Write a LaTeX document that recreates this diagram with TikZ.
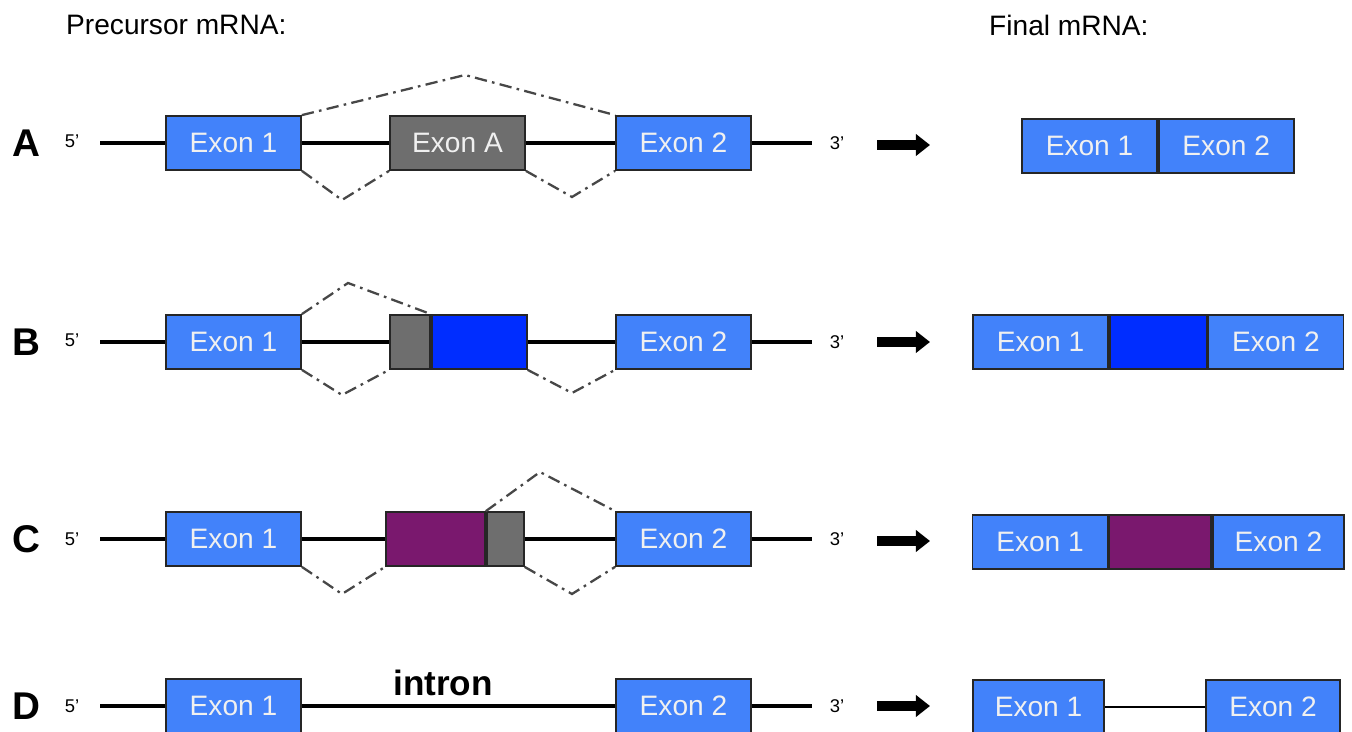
\documentclass[tikz,border=0pt]{standalone}
\usepackage{fontspec}
\setmainfont{Liberation Sans}
\usetikzlibrary{arrows.meta}

\definecolor{exonblue}{RGB}{66,130,250}
\definecolor{deepblue}{RGB}{0,45,255}
\definecolor{plum}{RGB}{122,24,110}
\definecolor{exongray}{RGB}{110,110,110}

\tikzstyle{exon}=[rectangle, draw=black!85, line width=1pt, fill=exonblue, text=white!94!black, minimum width=2.7cm, minimum height=1.08cm, inner sep=0pt, font=\fontsize{16}{18}\selectfont]
\tikzstyle{rowlabel}=[font=\bfseries\fontsize{22}{24}\selectfont]
\tikzstyle{prime}=[font=\fontsize{10.5}{12}\selectfont]
\tikzstyle{title}=[anchor=west, font=\fontsize{16}{18}\selectfont]
\tikzstyle{strand}=[line width=2pt]
\tikzstyle{splice}=[line width=1.3pt, black!72, dash pattern=on 7pt off 3pt on 1.5pt off 3pt]
\tikzstyle{fwd}=[line width=5.5pt, -{Triangle[length=8pt,width=12pt]}]

\begin{document}
\begin{tikzpicture}[x=0.02cm, y=-0.02cm]
\useasboundingbox (0,0) rectangle (1352,732);

\node [title] (pre) at (60,25) {Precursor mRNA:};
\node [title] (fin) at (983,25) {Final mRNA:};

% row A
\node [rowlabel] (la) at (26,143) {A};
\node [prime] (pa) at (72,141) {5'};
\coordinate (sa) at (100,143);
\node [exon] (a1) at (233.5,143) {Exon 1};
\node [exon, fill=exongray] (aA) at (457.5,143) {Exon A};
\node [exon] (a2) at (683.5,143) {Exon 2};
\coordinate (ea) at (812,143);
\node [prime] (qa) at (837,143) {3'};
\draw [strand] (sa) -- (a1) (a1) -- (aA) (aA) -- (a2) (a2) -- (ea);
\coordinate (ka) at (465,75);
\coordinate (kb) at (342,200);
\coordinate (kc) at (572,197);
\draw [splice] (a1.north east) -- (ka) -- (a2.north west);
\draw [splice] (a1.south east) -- (kb) -- (aA.south west);
\draw [splice] (aA.south east) -- (kc) -- (a2.south west);
\coordinate (xa) at (877,145);
\coordinate (ya) at (930,145);
\draw [fwd] (xa) -- (ya);
\node [exon] (fa1) at (1089.5,146) {Exon 1};
\node [exon, anchor=west] (fa2) at (fa1.east) {Exon 2};

% row B
\node [rowlabel] (lb) at (26,342) {B};
\node [prime] (pb) at (72,340) {5'};
\coordinate (sb) at (100,342);
\node [exon] (b1) at (233.5,342) {Exon 1};
\node [exon, fill=exongray, minimum width=0.8cm] (bg) at (410,342) {};
\node [exon, fill=deepblue, minimum width=1.9cm, anchor=west] (bb) at (bg.east) {};
\node [exon] (b2) at (683.5,342) {Exon 2};
\coordinate (eb) at (812,342);
\node [prime] (qb) at (837,342) {3'};
\draw [strand] (sb) -- (b1) (b1) -- (bg) (bb) -- (b2) (b2) -- (eb);
\coordinate (kd) at (348,283);
\coordinate (ke) at (342,395);
\coordinate (kf) at (572,393);
\draw [splice] (b1.north east) -- (kd) -- (bg.north east);
\draw [splice] (b1.south east) -- (ke) -- (bg.south west);
\draw [splice] (bb.south east) -- (kf) -- (b2.south west);
\coordinate (xb) at (877,342);
\coordinate (yb) at (930,342);
\draw [fwd] (xb) -- (yb);
\node [exon] (fb1) at (1040.5,342) {Exon 1};
\node [exon, fill=deepblue, minimum width=1.94cm, anchor=west] (fbb) at (fb1.east) {};
\node [exon, anchor=west] (fb2) at (fbb.east) {Exon 2};

% row C
\node [rowlabel] (lc) at (26,539) {C};
\node [prime] (pc) at (72,539) {5'};
\coordinate (sc) at (100,539);
\node [exon] (c1) at (233.5,539) {Exon 1};
\node [exon, fill=plum, minimum width=1.98cm] (cp) at (435.5,539) {};
\node [exon, fill=exongray, minimum width=0.74cm, anchor=west] (cg) at (cp.east) {};
\node [exon] (c2) at (683.5,539) {Exon 2};
\coordinate (ec) at (812,539);
\node [prime] (qc) at (837,539) {3'};
\draw [strand] (sc) -- (c1) (c1) -- (cp) (cg) -- (c2) (c2) -- (ec);
\coordinate (kg) at (540,472);
\coordinate (kh) at (342,594);
\coordinate (ki) at (572,594);
\draw [splice] (cg.north west) -- (kg) -- (c2.north west);
\draw [splice] (c1.south east) -- (kh) -- (cp.south west);
\draw [splice] (cg.south east) -- (ki) -- (c2.south west);
\coordinate (xc) at (877,541);
\coordinate (yc) at (930,541);
\draw [fwd] (xc) -- (yc);
\node [exon] (fc1) at (1040,542) {Exon 1};
\node [exon, fill=plum, minimum width=2.04cm, anchor=west] (fcp) at (fc1.east) {};
\node [exon, minimum width=2.62cm, anchor=west] (fc2) at (fcp.east) {Exon 2};

% row D
\node [rowlabel] (ld) at (26,706) {D};
\node [prime] (pd) at (72,706) {5'};
\coordinate (sd) at (100,706);
\node [exon] (d1) at (233.5,706) {Exon 1};
\node [exon] (d2) at (683.5,706) {Exon 2};
\coordinate (ed) at (812,706);
\node [prime] (qd) at (837,706) {3'};
\draw [strand] (sd) -- (d1) (d1) -- (d2) (d2) -- (ed);
\node [font=\bfseries\fontsize{20}{22}\selectfont] (intron) at (443,683) {intron};
\coordinate (xd) at (877,706);
\coordinate (yd) at (930,706);
\draw [fwd] (xd) -- (yd);
\node [exon, minimum width=2.62cm] (fd1) at (1038.5,707) {Exon 1};
\node [exon, minimum width=2.68cm] (fd2) at (1273,707) {Exon 2};
\draw [strand, line width=1.5pt] (fd1) -- (fd2);
\end{tikzpicture}
\end{document}
